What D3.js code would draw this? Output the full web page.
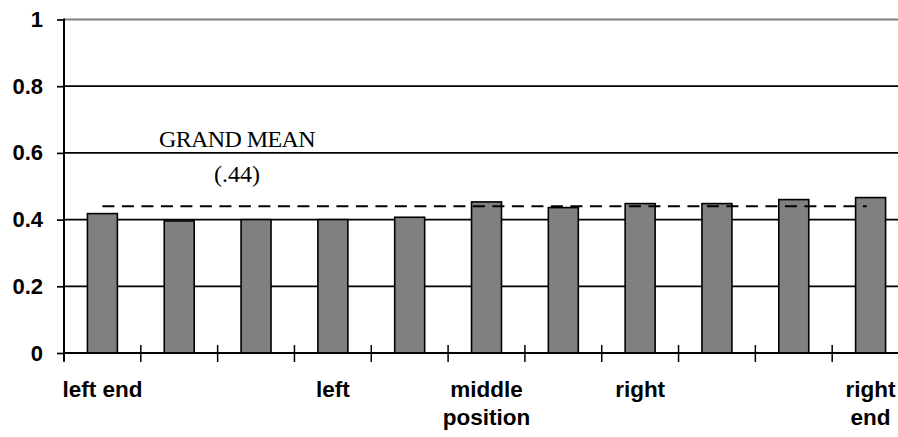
<!DOCTYPE html>
<html>
<head>
<meta charset="utf-8">
<script src="https://cdn.jsdelivr.net/npm/d3@7"></script>
<style>
  html, body { margin: 0; padding: 0; background: #fff; }
  svg { display: block; }
</style>
</head>
<body>
<svg id="chart" width="898" height="437"></svg>
<script>
// ---- data ----
const positions = ["1", "2", "3", "4", "5", "6", "7", "8", "9", "10", "11"];
const positionLabels = [["left end"], [], [], ["left"], [], ["middle", "position"], [], ["right"], [], [], ["right", "end"]];
const values = [0.418, 0.396, 0.400, 0.400, 0.407, 0.453, 0.436, 0.448, 0.448, 0.460, 0.466];
const grandMean = 0.44;
const grandMeanLabel = ["GRAND MEAN", "(.44)"];
const yTicks = [0, 0.2, 0.4, 0.6, 0.8, 1];
const yTickLabels = ["0", "0.2", "0.4", "0.6", "0.8", "1"];

(function () {
// ---- layout ----
const svg = d3.select("#chart");
const plotL = 64, plotR = 909, plotT = 19.5, plotB = 353;

const x = d3.scaleBand().domain(positions).range([plotL, plotR])
  .paddingInner(0.61).paddingOuter(0.305);
const y = d3.scaleLinear().domain([0, 1]).range([plotB, plotT]);
const step = x.step();

// gridlines
svg.append("g").selectAll("line").data(yTicks.filter(d => d > 0)).join("line")
  .attr("x1", plotL).attr("x2", plotR)
  .attr("y1", d => y(d)).attr("y2", d => y(d))
  .attr("stroke", d => d === 1 ? "#808080" : "#000")
  .attr("stroke-width", d => d === 1 ? 2 : 1.7);

// y axis
const yAxis = d3.axisLeft(y).tickValues(yTicks).tickSize(7).tickPadding(14)
  .tickFormat((d, i) => yTickLabels[i]);
const gy = svg.append("g").attr("transform", `translate(${plotL},0)`).call(yAxis);
gy.select(".domain").remove();
gy.selectAll(".tick line").attr("stroke", "#000").attr("stroke-width", 1.7);
gy.selectAll(".tick text").attr("fill", "#000")
  .style("font-family", "'Liberation Sans', Arial, sans-serif")
  .style("font-weight", "bold").style("font-size", "22px");
svg.append("line").attr("x1", plotL).attr("x2", plotL).attr("y1", plotT - 1).attr("y2", plotB + 8)
  .attr("stroke", "#000").attr("stroke-width", 2);

// bars
svg.append("g").selectAll("rect").data(values).join("rect")
  .attr("x", (d, i) => x(positions[i]))
  .attr("y", d => y(d))
  .attr("width", x.bandwidth())
  .attr("height", d => y(0) - y(d))
  .attr("fill", "#808080")
  .attr("stroke", "#000").attr("stroke-width", 1.6);

// x axis line
svg.append("line").attr("x1", plotL).attr("x2", plotR).attr("y1", plotB).attr("y2", plotB)
  .attr("stroke", "#000").attr("stroke-width", 2);

// x ticks at band boundaries
const boundaries = d3.range(positions.length + 1).map(k => plotL + k * step);
svg.append("g").selectAll("line").data(boundaries).join("line")
  .attr("x1", d => d).attr("x2", d => d)
  .attr("y1", (d, i) => i === 0 ? plotB : plotB - 8).attr("y2", plotB + 9)
  .attr("stroke", "#000").attr("stroke-width", 1.5);

// x labels
const lab = svg.append("g")
  .style("font-family", "'Liberation Sans', Arial, sans-serif")
  .style("font-weight", "bold").style("font-size", "22.5px").attr("fill", "#000");
positionLabels.forEach((lines, i) => {
  lines.forEach((t, j) => {
    lab.append("text")
      .attr("x", x(positions[i]) + x.bandwidth() / 2)
      .attr("y", 397 + j * 28)
      .attr("text-anchor", "middle")
      .text(t);
  });
});

// grand mean dashed line
svg.append("line")
  .attr("x1", x(positions[0]) + x.bandwidth() / 2)
  .attr("x2", x(positions[positions.length - 1]) + x.bandwidth() / 2 - 4)
  .attr("y1", y(grandMean)).attr("y2", y(grandMean))
  .attr("stroke", "#000").attr("stroke-width", 2)
  .attr("stroke-dasharray", "12,7.5");

// grand mean label
const gm = svg.append("g")
  .style("font-family", "'Liberation Serif', 'Times New Roman', serif")
  .style("font-size", "24px").attr("fill", "#000");
grandMeanLabel.forEach((t, j) => {
  gm.append("text").attr("x", 237).attr("y", 147 + j * 35)
    .attr("text-anchor", "middle")
    .style("letter-spacing", j === 0 ? "-0.6px" : "0px")
    .text(t);
});
})();
</script>
</body>
</html>
